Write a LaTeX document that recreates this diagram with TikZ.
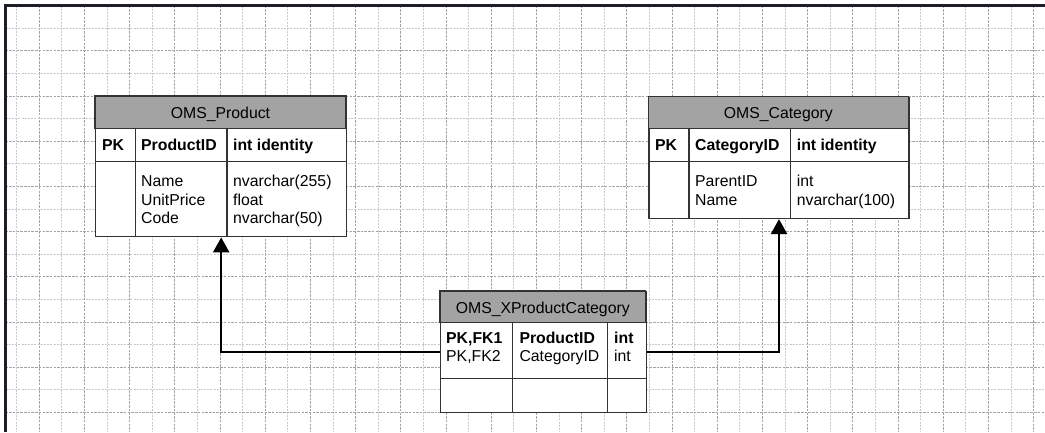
\documentclass[tikz,border=0pt]{standalone}
\usepackage{fontspec}
\setmainfont{Liberation Sans}
\usetikzlibrary{arrows.meta}
\definecolor{framec}{HTML}{1E1E2A}
\definecolor{hdr}{HTML}{A3A3A3}
\definecolor{bord}{HTML}{333333}
\definecolor{gridminor}{HTML}{C8C8C8}
\definecolor{gridmajor}{HTML}{A4A4A4}
\begin{document}
\begin{tikzpicture}[x=1pt,y=-1pt,
  tbl/.style={draw=bord,line width=1.4pt,fill=white,inner sep=0pt,anchor=north west},
  hdrbox/.style={fill=hdr,draw=bord,line width=1.4pt},
  sep/.style={draw=bord,line width=1.4pt},
  txt/.style={anchor=base west,inner sep=0pt,font=\fontsize{15.8}{18}\selectfont},
  btxt/.style={anchor=base west,inner sep=0pt,font=\fontsize{15.8}{18}\selectfont\bfseries},
  ttl/.style={anchor=base,inner sep=0pt,font=\fontsize{15.8}{18}\selectfont},
  gmin/.style={gridminor,line width=1pt,dash pattern=on 2pt off 1.2pt},
  gmaj/.style={gridmajor,line width=1pt,dash pattern=on 2.5pt off 1.2pt},
  link/.style={draw=black,line width=2.4pt,-{Triangle[width=16pt,length=15pt]}}
]
\useasboundingbox (0,0) rectangle (1045,432);
\fill[white] (0,0) rectangle (1045,432);
% grid
\foreach \k in {0,2,...,44} {\draw[gmin] ({16.7+22.6*\k},5.5) -- ({16.7+22.6*\k},432);}
\foreach \k in {1,3,...,45} {\draw[gmaj] ({16.7+22.6*\k},5.5) -- ({16.7+22.6*\k},432);}
\foreach \k in {0,2,...,16} {\draw[gmin] (5.5,{28.3+22.6*\k}) -- (1045,{28.3+22.6*\k});}
\foreach \k in {1,3,...,17} {\draw[gmaj] (5.5,{28.3+22.6*\k}) -- (1045,{28.3+22.6*\k});}
% frame
\draw[framec,line width=3pt] (5.5,432) -- (5.5,5.5) -- (1045,5.5);

% OMS_Product
\node[tbl,minimum width=251pt,minimum height=140pt] (prod) at (95,96) {};
\draw[hdrbox] (95,96) rectangle (346,128.3);
\node[ttl] (prodT) at (220.5,118) {OMS\_Product};
\draw[sep] (95,161.5) -- (346,161.5);
\draw[sep] (135.3,128.3) -- (135.3,236);
\draw[sep] (227,128.3) -- (227,236);
\node[btxt] (prodPK) at (102,150) {PK};
\node[btxt] (prodID) at (141,150) {ProductID};
\node[btxt] (prodIDt) at (233,150) {int identity};
\node[txt] (prodN) at (141,186.7) {Name};
\node[txt] (prodU) at (141,205) {UnitPrice};
\node[txt] (prodC) at (141,223.3) {Code};
\node[txt] (prodNt) at (233,186.7) {nvarchar(255)};
\node[txt] (prodUt) at (233,205) {float};
\node[txt] (prodCt) at (233,223.3) {nvarchar(50)};

% OMS_Category
\node[tbl,minimum width=260pt,minimum height=121pt] (cat) at (648.3,96.7) {};
\draw[hdrbox] (648.3,96.7) rectangle (908.3,128.3);
\node[ttl] (catT) at (778.3,118) {OMS\_Category};
\draw[sep] (648.3,161.7) -- (908.3,161.7);
\draw[sep] (689,128.3) -- (689,217.7);
\draw[sep] (790.7,128.3) -- (790.7,217.7);
\node[btxt] (catPK) at (655,150) {PK};
\node[btxt] (catID) at (695,150) {CategoryID};
\node[btxt] (catIDt) at (796.7,150) {int identity};
\node[txt] (catP) at (695,186.7) {ParentID};
\node[txt] (catN) at (695,205) {Name};
\node[txt] (catPt) at (796.7,186.7) {int};
\node[txt] (catNt) at (796.7,205) {nvarchar(100)};

% OMS_XProductCategory
\node[tbl,minimum width=205.7pt,minimum height=120.7pt] (xpc) at (440,291) {};
\draw[hdrbox] (440,291) rectangle (645.7,322.7);
\node[ttl] (xpcT) at (542.8,313) {OMS\_XProductCategory};
\draw[sep] (440,378.3) -- (645.7,378.3);
\draw[sep] (512.7,322.7) -- (512.7,411.7);
\draw[sep] (607.3,322.7) -- (607.3,411.7);
\node[btxt] (xpcK1) at (446,343.3) {PK,FK1};
\node[txt] (xpcK2) at (446,361.7) {PK,FK2};
\node[btxt] (xpcP) at (519.3,343.3) {ProductID};
\node[txt] (xpcC) at (519.3,361.7) {CategoryID};
\node[btxt] (xpcPt) at (614,343.3) {int};
\node[txt] (xpcCt) at (614,361.7) {int};

% connectors
\draw[link] (xpc.west) -| (prod.south);
\draw[link] (xpc.east) -| (cat.south);
\end{tikzpicture}
\end{document}
